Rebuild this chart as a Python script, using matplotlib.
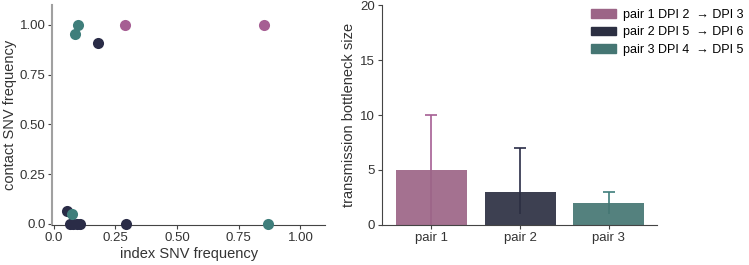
import matplotlib
matplotlib.use("Agg")
import matplotlib.pyplot as plt
from matplotlib.patches import Patch

plt.rcParams['font.family'] = ['Liberation Sans', 'DejaVu Sans']

# scatter data
pair1_index = [0.289, 0.851]
pair1_contact = [1.0, 1.0]
pair2_index = [0.178, 0.056, 0.065, 0.080, 0.095, 0.105, 0.295]
pair2_contact = [0.91, 0.067, 0.0, 0.0, 0.0, 0.0, 0.0]
pair3_index = [0.097, 0.087, 0.076, 0.870]
pair3_contact = [1.0, 0.955, 0.052, 0.0]

# bar data
pairs = ["pair 1", "pair 2", "pair 3"]
bottleneck = [5, 3, 2]
ci_low = [0, 1, 1]
ci_high = [10, 7, 3]
legend_labels = ["pair 1 DPI 2  \u2192 DPI 3", "pair 2 DPI 5  \u2192 DPI 6", "pair 3 DPI 4  \u2192 DPI 5"]

scatter_colors = ["#a65f93", "#2a2c47", "#3f7e7b"]
bar_colors = ["#9c6587", "#2c2f42", "#457673"]

fig = plt.figure(figsize=(7.49, 2.65), dpi=100)
ax1 = fig.add_axes([0.070, 0.151, 0.364, 0.830])
ax2 = fig.add_axes([0.5096, 0.151, 0.3672, 0.830])

ms = 64
for xs, ys, c in [(pair2_index, pair2_contact, scatter_colors[1]),
                  (pair3_index, pair3_contact, scatter_colors[2]),
                  (pair1_index, pair1_contact, scatter_colors[0])]:
    ax1.scatter(xs, ys, s=ms, color=c, linewidths=0, zorder=3, clip_on=False)

ax1.set_xlim(-0.005, 1.1)
ax1.set_ylim(-0.005, 1.1)
ax1.set_xticks([0.0, 0.25, 0.5, 0.75, 1.0])
ax1.set_xticklabels(["0.0", "0.25", "0.50", "0.75", "1.00"])
ax1.set_yticks([0.0, 0.25, 0.5, 0.75, 1.0])
ax1.set_yticklabels(["0.0", "0.25", "0.50", "0.75", "1.00"])
ax1.set_xlabel("index SNV frequency", fontsize=10.5, color="#333333", labelpad=2)
ax1.set_ylabel("contact SNV frequency", fontsize=10.5, color="#333333", labelpad=2)

x = list(range(len(pairs)))
for i in x:
    # lower part of the interval, drawn behind the bar
    ax2.vlines(i, ci_low[i], bottleneck[i], color=scatter_colors[i], linewidth=1.2, zorder=1)
    eb = ax2.errorbar(i, bottleneck[i], yerr=[[0], [ci_high[i] - bottleneck[i]]],
                      color=scatter_colors[i], capsize=4, elinewidth=1.2, capthick=1.2, zorder=1)
    # keep only the upper cap
    eb[1][0].set_visible(False)
ax2.bar(x, bottleneck, width=0.8, color=bar_colors, alpha=0.92,
        edgecolor="none", zorder=2)
ax2.set_xlim(-0.56, 2.54)
ax2.set_ylim(0, 20)
ax2.set_yticks([0, 5, 10, 15, 20])
ax2.set_xticks(x)
ax2.set_xticklabels(pairs)
ax2.set_ylabel("transmission bottleneck size", fontsize=10.5, color="#333333", labelpad=3)

for ax in (ax1, ax2):
    ax.spines['top'].set_visible(False)
    ax.spines['right'].set_visible(False)
    ax.spines['bottom'].set_color("#444444")
    ax.tick_params(labelsize=9.5, colors="#444444", labelcolor="#333333", length=3, width=0.8, pad=2)
ax1.spines['left'].set_color("#a0a0a0")
ax1.spines['left'].set_linewidth(1.5)
ax2.spines['left'].set_color("#444444")

handles = [Patch(facecolor=c, edgecolor=c) for c in bar_colors]
fig.legend(handles, legend_labels, loc="upper right", bbox_to_anchor=(1.005, 1.0),
           frameon=False, fontsize=9, handlelength=2.0, handleheight=0.7,
           handletextpad=0.6, labelspacing=0.45, borderaxespad=0.3)

fig.savefig("out.png", dpi=100)
